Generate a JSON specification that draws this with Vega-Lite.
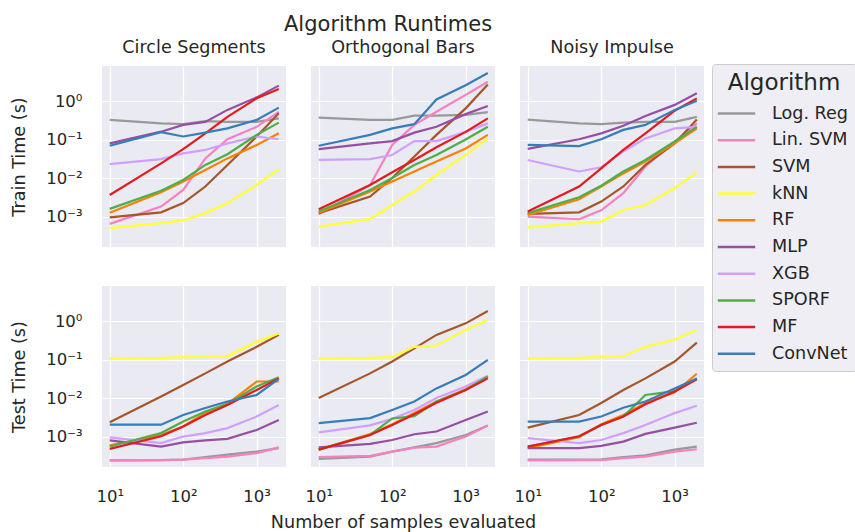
{
"$schema": "https://vega.github.io/schema/vega-lite/v6.json",
"padding": {"left": 10, "top": 14, "right": 0, "bottom": 0},
"background": "white",
"title": {"text": "Algorithm Runtimes", "fontSize": 21, "anchor": "middle", "frame": "bounds", "dx": -46, "offset": 4},
"data": {"values": [
{"d":"CS","p":"Tr","a":"Log. Reg","n":10,"t":0.324},{"d":"CS","p":"Tr","a":"Log. Reg","n":50,"t":0.263},{"d":"CS","p":"Tr","a":"Log. Reg","n":100,"t":0.251},{"d":"CS","p":"Tr","a":"Log. Reg","n":200,"t":0.302},{"d":"CS","p":"Tr","a":"Log. Reg","n":400,"t":0.288},{"d":"CS","p":"Tr","a":"Log. Reg","n":1000,"t":0.288},{"d":"CS","p":"Tr","a":"Log. Reg","n":2000,"t":0.355},
{"d":"CS","p":"Tr","a":"Lin. SVM","n":10,"t":0.000646},{"d":"CS","p":"Tr","a":"Lin. SVM","n":50,"t":0.00182},{"d":"CS","p":"Tr","a":"Lin. SVM","n":100,"t":0.0049},{"d":"CS","p":"Tr","a":"Lin. SVM","n":200,"t":0.0324},{"d":"CS","p":"Tr","a":"Lin. SVM","n":400,"t":0.102},{"d":"CS","p":"Tr","a":"Lin. SVM","n":1000,"t":0.214},{"d":"CS","p":"Tr","a":"Lin. SVM","n":2000,"t":0.525},
{"d":"CS","p":"Tr","a":"SVM","n":10,"t":0.000955},{"d":"CS","p":"Tr","a":"SVM","n":50,"t":0.00129},{"d":"CS","p":"Tr","a":"SVM","n":100,"t":0.00224},{"d":"CS","p":"Tr","a":"SVM","n":200,"t":0.00603},{"d":"CS","p":"Tr","a":"SVM","n":400,"t":0.0219},{"d":"CS","p":"Tr","a":"SVM","n":1000,"t":0.12},{"d":"CS","p":"Tr","a":"SVM","n":2000,"t":0.479},
{"d":"CS","p":"Tr","a":"kNN","n":10,"t":0.000501},{"d":"CS","p":"Tr","a":"kNN","n":50,"t":0.000676},{"d":"CS","p":"Tr","a":"kNN","n":100,"t":0.000794},{"d":"CS","p":"Tr","a":"kNN","n":200,"t":0.00123},{"d":"CS","p":"Tr","a":"kNN","n":400,"t":0.00224},{"d":"CS","p":"Tr","a":"kNN","n":1000,"t":0.00661},{"d":"CS","p":"Tr","a":"kNN","n":2000,"t":0.017},
{"d":"CS","p":"Tr","a":"RF","n":10,"t":0.00126},{"d":"CS","p":"Tr","a":"RF","n":50,"t":0.00427},{"d":"CS","p":"Tr","a":"RF","n":100,"t":0.00813},{"d":"CS","p":"Tr","a":"RF","n":200,"t":0.0162},{"d":"CS","p":"Tr","a":"RF","n":400,"t":0.0324},{"d":"CS","p":"Tr","a":"RF","n":1000,"t":0.0724},{"d":"CS","p":"Tr","a":"RF","n":2000,"t":0.145},
{"d":"CS","p":"Tr","a":"MLP","n":10,"t":0.0794},{"d":"CS","p":"Tr","a":"MLP","n":50,"t":0.16},{"d":"CS","p":"Tr","a":"MLP","n":100,"t":0.24},{"d":"CS","p":"Tr","a":"MLP","n":200,"t":0.288},{"d":"CS","p":"Tr","a":"MLP","n":400,"t":0.589},{"d":"CS","p":"Tr","a":"MLP","n":1000,"t":1.245},{"d":"CS","p":"Tr","a":"MLP","n":2000,"t":2.512},
{"d":"CS","p":"Tr","a":"XGB","n":10,"t":0.0229},{"d":"CS","p":"Tr","a":"XGB","n":50,"t":0.0309},{"d":"CS","p":"Tr","a":"XGB","n":100,"t":0.0437},{"d":"CS","p":"Tr","a":"XGB","n":200,"t":0.0537},{"d":"CS","p":"Tr","a":"XGB","n":400,"t":0.0794},{"d":"CS","p":"Tr","a":"XGB","n":1000,"t":0.12},{"d":"CS","p":"Tr","a":"XGB","n":2000,"t":0.102},
{"d":"CS","p":"Tr","a":"SPORF","n":10,"t":0.00158},{"d":"CS","p":"Tr","a":"SPORF","n":50,"t":0.00468},{"d":"CS","p":"Tr","a":"SPORF","n":100,"t":0.00891},{"d":"CS","p":"Tr","a":"SPORF","n":200,"t":0.0219},{"d":"CS","p":"Tr","a":"SPORF","n":400,"t":0.0417},{"d":"CS","p":"Tr","a":"SPORF","n":1000,"t":0.132},{"d":"CS","p":"Tr","a":"SPORF","n":2000,"t":0.275},
{"d":"CS","p":"Tr","a":"MF","n":10,"t":0.00363},{"d":"CS","p":"Tr","a":"MF","n":50,"t":0.024},{"d":"CS","p":"Tr","a":"MF","n":100,"t":0.0562},{"d":"CS","p":"Tr","a":"MF","n":200,"t":0.145},{"d":"CS","p":"Tr","a":"MF","n":400,"t":0.389},{"d":"CS","p":"Tr","a":"MF","n":1000,"t":1.175},{"d":"CS","p":"Tr","a":"MF","n":2000,"t":2.042},
{"d":"CS","p":"Tr","a":"ConvNet","n":10,"t":0.0692},{"d":"CS","p":"Tr","a":"ConvNet","n":50,"t":0.155},{"d":"CS","p":"Tr","a":"ConvNet","n":100,"t":0.12},{"d":"CS","p":"Tr","a":"ConvNet","n":200,"t":0.151},{"d":"CS","p":"Tr","a":"ConvNet","n":400,"t":0.195},{"d":"CS","p":"Tr","a":"ConvNet","n":1000,"t":0.324},{"d":"CS","p":"Tr","a":"ConvNet","n":2000,"t":0.676},

{"d":"OB","p":"Tr","a":"Log. Reg","n":10,"t":0.372},{"d":"OB","p":"Tr","a":"Log. Reg","n":50,"t":0.324},{"d":"OB","p":"Tr","a":"Log. Reg","n":100,"t":0.324},{"d":"OB","p":"Tr","a":"Log. Reg","n":200,"t":0.417},{"d":"OB","p":"Tr","a":"Log. Reg","n":400,"t":0.417},{"d":"OB","p":"Tr","a":"Log. Reg","n":1000,"t":0.437},{"d":"OB","p":"Tr","a":"Log. Reg","n":2000,"t":0.513},
{"d":"OB","p":"Tr","a":"Lin. SVM","n":10,"t":0.00115},{"d":"OB","p":"Tr","a":"Lin. SVM","n":50,"t":0.00661},{"d":"OB","p":"Tr","a":"Lin. SVM","n":100,"t":0.0724},{"d":"OB","p":"Tr","a":"Lin. SVM","n":200,"t":0.24},{"d":"OB","p":"Tr","a":"Lin. SVM","n":400,"t":0.525},{"d":"OB","p":"Tr","a":"Lin. SVM","n":1000,"t":1.445},{"d":"OB","p":"Tr","a":"Lin. SVM","n":2000,"t":3.162},
{"d":"OB","p":"Tr","a":"SVM","n":10,"t":0.00123},{"d":"OB","p":"Tr","a":"SVM","n":50,"t":0.00331},{"d":"OB","p":"Tr","a":"SVM","n":100,"t":0.01},{"d":"OB","p":"Tr","a":"SVM","n":200,"t":0.0363},{"d":"OB","p":"Tr","a":"SVM","n":400,"t":0.132},{"d":"OB","p":"Tr","a":"SVM","n":1000,"t":0.646},{"d":"OB","p":"Tr","a":"SVM","n":2000,"t":2.692},
{"d":"OB","p":"Tr","a":"kNN","n":10,"t":0.00055},{"d":"OB","p":"Tr","a":"kNN","n":50,"t":0.000871},{"d":"OB","p":"Tr","a":"kNN","n":100,"t":0.002},{"d":"OB","p":"Tr","a":"kNN","n":200,"t":0.00447},{"d":"OB","p":"Tr","a":"kNN","n":400,"t":0.012},{"d":"OB","p":"Tr","a":"kNN","n":1000,"t":0.0398},{"d":"OB","p":"Tr","a":"kNN","n":2000,"t":0.107},
{"d":"OB","p":"Tr","a":"RF","n":10,"t":0.00126},{"d":"OB","p":"Tr","a":"RF","n":50,"t":0.00447},{"d":"OB","p":"Tr","a":"RF","n":100,"t":0.00813},{"d":"OB","p":"Tr","a":"RF","n":200,"t":0.0148},{"d":"OB","p":"Tr","a":"RF","n":400,"t":0.0269},{"d":"OB","p":"Tr","a":"RF","n":1000,"t":0.0589},{"d":"OB","p":"Tr","a":"RF","n":2000,"t":0.132},
{"d":"OB","p":"Tr","a":"MLP","n":10,"t":0.0562},{"d":"OB","p":"Tr","a":"MLP","n":50,"t":0.0794},{"d":"OB","p":"Tr","a":"MLP","n":100,"t":0.0912},{"d":"OB","p":"Tr","a":"MLP","n":200,"t":0.151},{"d":"OB","p":"Tr","a":"MLP","n":400,"t":0.214},{"d":"OB","p":"Tr","a":"MLP","n":1000,"t":0.457},{"d":"OB","p":"Tr","a":"MLP","n":2000,"t":0.741},
{"d":"OB","p":"Tr","a":"XGB","n":10,"t":0.0295},{"d":"OB","p":"Tr","a":"XGB","n":50,"t":0.0309},{"d":"OB","p":"Tr","a":"XGB","n":100,"t":0.0398},{"d":"OB","p":"Tr","a":"XGB","n":200,"t":0.0912},{"d":"OB","p":"Tr","a":"XGB","n":400,"t":0.0912},{"d":"OB","p":"Tr","a":"XGB","n":1000,"t":0.158},{"d":"OB","p":"Tr","a":"XGB","n":2000,"t":0.263},
{"d":"OB","p":"Tr","a":"SPORF","n":10,"t":0.00135},{"d":"OB","p":"Tr","a":"SPORF","n":50,"t":0.0049},{"d":"OB","p":"Tr","a":"SPORF","n":100,"t":0.01},{"d":"OB","p":"Tr","a":"SPORF","n":200,"t":0.0219},{"d":"OB","p":"Tr","a":"SPORF","n":400,"t":0.0398},{"d":"OB","p":"Tr","a":"SPORF","n":1000,"t":0.1},{"d":"OB","p":"Tr","a":"SPORF","n":2000,"t":0.214},
{"d":"OB","p":"Tr","a":"MF","n":10,"t":0.00155},{"d":"OB","p":"Tr","a":"MF","n":50,"t":0.00661},{"d":"OB","p":"Tr","a":"MF","n":100,"t":0.0141},{"d":"OB","p":"Tr","a":"MF","n":200,"t":0.0295},{"d":"OB","p":"Tr","a":"MF","n":400,"t":0.0631},{"d":"OB","p":"Tr","a":"MF","n":1000,"t":0.158},{"d":"OB","p":"Tr","a":"MF","n":2000,"t":0.355},
{"d":"OB","p":"Tr","a":"ConvNet","n":10,"t":0.0692},{"d":"OB","p":"Tr","a":"ConvNet","n":50,"t":0.132},{"d":"OB","p":"Tr","a":"ConvNet","n":100,"t":0.195},{"d":"OB","p":"Tr","a":"ConvNet","n":200,"t":0.251},{"d":"OB","p":"Tr","a":"ConvNet","n":400,"t":1.096},{"d":"OB","p":"Tr","a":"ConvNet","n":1000,"t":2.57},{"d":"OB","p":"Tr","a":"ConvNet","n":2000,"t":5.37},

{"d":"NI","p":"Tr","a":"Log. Reg","n":10,"t":0.331},{"d":"NI","p":"Tr","a":"Log. Reg","n":50,"t":0.263},{"d":"NI","p":"Tr","a":"Log. Reg","n":100,"t":0.251},{"d":"NI","p":"Tr","a":"Log. Reg","n":200,"t":0.275},{"d":"NI","p":"Tr","a":"Log. Reg","n":400,"t":0.288},{"d":"NI","p":"Tr","a":"Log. Reg","n":1000,"t":0.288},{"d":"NI","p":"Tr","a":"Log. Reg","n":2000,"t":0.389},
{"d":"NI","p":"Tr","a":"Lin. SVM","n":10,"t":0.001},{"d":"NI","p":"Tr","a":"Lin. SVM","n":50,"t":0.000851},{"d":"NI","p":"Tr","a":"Lin. SVM","n":100,"t":0.00145},{"d":"NI","p":"Tr","a":"Lin. SVM","n":200,"t":0.00407},{"d":"NI","p":"Tr","a":"Lin. SVM","n":400,"t":0.02},{"d":"NI","p":"Tr","a":"Lin. SVM","n":1000,"t":0.0891},{"d":"NI","p":"Tr","a":"Lin. SVM","n":2000,"t":0.263},
{"d":"NI","p":"Tr","a":"SVM","n":10,"t":0.00117},{"d":"NI","p":"Tr","a":"SVM","n":50,"t":0.00129},{"d":"NI","p":"Tr","a":"SVM","n":100,"t":0.00245},{"d":"NI","p":"Tr","a":"SVM","n":200,"t":0.00603},{"d":"NI","p":"Tr","a":"SVM","n":400,"t":0.0219},{"d":"NI","p":"Tr","a":"SVM","n":1000,"t":0.0794},{"d":"NI","p":"Tr","a":"SVM","n":2000,"t":0.331},
{"d":"NI","p":"Tr","a":"kNN","n":10,"t":0.000525},{"d":"NI","p":"Tr","a":"kNN","n":50,"t":0.000676},{"d":"NI","p":"Tr","a":"kNN","n":100,"t":0.000741},{"d":"NI","p":"Tr","a":"kNN","n":200,"t":0.00148},{"d":"NI","p":"Tr","a":"kNN","n":400,"t":0.002},{"d":"NI","p":"Tr","a":"kNN","n":1000,"t":0.0055},{"d":"NI","p":"Tr","a":"kNN","n":2000,"t":0.0138},
{"d":"NI","p":"Tr","a":"RF","n":10,"t":0.0011},{"d":"NI","p":"Tr","a":"RF","n":50,"t":0.00282},{"d":"NI","p":"Tr","a":"RF","n":100,"t":0.00603},{"d":"NI","p":"Tr","a":"RF","n":200,"t":0.0132},{"d":"NI","p":"Tr","a":"RF","n":400,"t":0.0269},{"d":"NI","p":"Tr","a":"RF","n":1000,"t":0.0794},{"d":"NI","p":"Tr","a":"RF","n":2000,"t":0.195},
{"d":"NI","p":"Tr","a":"MLP","n":10,"t":0.0575},{"d":"NI","p":"Tr","a":"MLP","n":50,"t":0.102},{"d":"NI","p":"Tr","a":"MLP","n":100,"t":0.145},{"d":"NI","p":"Tr","a":"MLP","n":200,"t":0.229},{"d":"NI","p":"Tr","a":"MLP","n":400,"t":0.407},{"d":"NI","p":"Tr","a":"MLP","n":1000,"t":0.794},{"d":"NI","p":"Tr","a":"MLP","n":2000,"t":1.585},
{"d":"NI","p":"Tr","a":"XGB","n":10,"t":0.0295},{"d":"NI","p":"Tr","a":"XGB","n":50,"t":0.0148},{"d":"NI","p":"Tr","a":"XGB","n":100,"t":0.0191},{"d":"NI","p":"Tr","a":"XGB","n":200,"t":0.049},{"d":"NI","p":"Tr","a":"XGB","n":400,"t":0.107},{"d":"NI","p":"Tr","a":"XGB","n":1000,"t":0.195},{"d":"NI","p":"Tr","a":"XGB","n":2000,"t":0.214},
{"d":"NI","p":"Tr","a":"SPORF","n":10,"t":0.00123},{"d":"NI","p":"Tr","a":"SPORF","n":50,"t":0.00316},{"d":"NI","p":"Tr","a":"SPORF","n":100,"t":0.00631},{"d":"NI","p":"Tr","a":"SPORF","n":200,"t":0.0148},{"d":"NI","p":"Tr","a":"SPORF","n":400,"t":0.0295},{"d":"NI","p":"Tr","a":"SPORF","n":1000,"t":0.0891},{"d":"NI","p":"Tr","a":"SPORF","n":2000,"t":0.214},
{"d":"NI","p":"Tr","a":"MF","n":10,"t":0.00135},{"d":"NI","p":"Tr","a":"MF","n":50,"t":0.00603},{"d":"NI","p":"Tr","a":"MF","n":100,"t":0.0178},{"d":"NI","p":"Tr","a":"MF","n":200,"t":0.0537},{"d":"NI","p":"Tr","a":"MF","n":400,"t":0.145},{"d":"NI","p":"Tr","a":"MF","n":1000,"t":0.562},{"d":"NI","p":"Tr","a":"MF","n":2000,"t":1.175},
{"d":"NI","p":"Tr","a":"ConvNet","n":10,"t":0.0724},{"d":"NI","p":"Tr","a":"ConvNet","n":50,"t":0.0676},{"d":"NI","p":"Tr","a":"ConvNet","n":100,"t":0.102},{"d":"NI","p":"Tr","a":"ConvNet","n":200,"t":0.178},{"d":"NI","p":"Tr","a":"ConvNet","n":400,"t":0.24},{"d":"NI","p":"Tr","a":"ConvNet","n":1000,"t":0.589},{"d":"NI","p":"Tr","a":"ConvNet","n":2000,"t":1.023},

{"d":"CS","p":"Te","a":"Log. Reg","n":10,"t":0.00024},{"d":"CS","p":"Te","a":"Log. Reg","n":50,"t":0.000245},{"d":"CS","p":"Te","a":"Log. Reg","n":100,"t":0.000251},{"d":"CS","p":"Te","a":"Log. Reg","n":200,"t":0.000295},{"d":"CS","p":"Te","a":"Log. Reg","n":400,"t":0.000339},{"d":"CS","p":"Te","a":"Log. Reg","n":1000,"t":0.000407},{"d":"CS","p":"Te","a":"Log. Reg","n":2000,"t":0.000501},
{"d":"CS","p":"Te","a":"Lin. SVM","n":10,"t":0.00024},{"d":"CS","p":"Te","a":"Lin. SVM","n":50,"t":0.000245},{"d":"CS","p":"Te","a":"Lin. SVM","n":100,"t":0.000251},{"d":"CS","p":"Te","a":"Lin. SVM","n":200,"t":0.000275},{"d":"CS","p":"Te","a":"Lin. SVM","n":400,"t":0.000302},{"d":"CS","p":"Te","a":"Lin. SVM","n":1000,"t":0.000372},{"d":"CS","p":"Te","a":"Lin. SVM","n":2000,"t":0.000525},
{"d":"CS","p":"Te","a":"SVM","n":10,"t":0.00234},{"d":"CS","p":"Te","a":"SVM","n":50,"t":0.011},{"d":"CS","p":"Te","a":"SVM","n":100,"t":0.0219},{"d":"CS","p":"Te","a":"SVM","n":200,"t":0.0437},{"d":"CS","p":"Te","a":"SVM","n":400,"t":0.0891},{"d":"CS","p":"Te","a":"SVM","n":1000,"t":0.214},{"d":"CS","p":"Te","a":"SVM","n":2000,"t":0.437},
{"d":"CS","p":"Te","a":"kNN","n":10,"t":0.107},{"d":"CS","p":"Te","a":"kNN","n":50,"t":0.11},{"d":"CS","p":"Te","a":"kNN","n":100,"t":0.115},{"d":"CS","p":"Te","a":"kNN","n":200,"t":0.117},{"d":"CS","p":"Te","a":"kNN","n":400,"t":0.123},{"d":"CS","p":"Te","a":"kNN","n":1000,"t":0.288},{"d":"CS","p":"Te","a":"kNN","n":2000,"t":0.479},
{"d":"CS","p":"Te","a":"RF","n":10,"t":0.000589},{"d":"CS","p":"Te","a":"RF","n":50,"t":0.0011},{"d":"CS","p":"Te","a":"RF","n":100,"t":0.00182},{"d":"CS","p":"Te","a":"RF","n":200,"t":0.00417},{"d":"CS","p":"Te","a":"RF","n":400,"t":0.00708},{"d":"CS","p":"Te","a":"RF","n":1000,"t":0.0269},{"d":"CS","p":"Te","a":"RF","n":2000,"t":0.0269},
{"d":"CS","p":"Te","a":"MLP","n":10,"t":0.000794},{"d":"CS","p":"Te","a":"MLP","n":50,"t":0.00055},{"d":"CS","p":"Te","a":"MLP","n":100,"t":0.000708},{"d":"CS","p":"Te","a":"MLP","n":200,"t":0.000794},{"d":"CS","p":"Te","a":"MLP","n":400,"t":0.000871},{"d":"CS","p":"Te","a":"MLP","n":1000,"t":0.00148},{"d":"CS","p":"Te","a":"MLP","n":2000,"t":0.00269},
{"d":"CS","p":"Te","a":"XGB","n":10,"t":0.000955},{"d":"CS","p":"Te","a":"XGB","n":50,"t":0.000676},{"d":"CS","p":"Te","a":"XGB","n":100,"t":0.001},{"d":"CS","p":"Te","a":"XGB","n":200,"t":0.00123},{"d":"CS","p":"Te","a":"XGB","n":400,"t":0.00166},{"d":"CS","p":"Te","a":"XGB","n":1000,"t":0.00331},{"d":"CS","p":"Te","a":"XGB","n":2000,"t":0.00661},
{"d":"CS","p":"Te","a":"SPORF","n":10,"t":0.00055},{"d":"CS","p":"Te","a":"SPORF","n":50,"t":0.00123},{"d":"CS","p":"Te","a":"SPORF","n":100,"t":0.00245},{"d":"CS","p":"Te","a":"SPORF","n":200,"t":0.00447},{"d":"CS","p":"Te","a":"SPORF","n":400,"t":0.00708},{"d":"CS","p":"Te","a":"SPORF","n":1000,"t":0.02},{"d":"CS","p":"Te","a":"SPORF","n":2000,"t":0.0347},
{"d":"CS","p":"Te","a":"MF","n":10,"t":0.000479},{"d":"CS","p":"Te","a":"MF","n":50,"t":0.00102},{"d":"CS","p":"Te","a":"MF","n":100,"t":0.00182},{"d":"CS","p":"Te","a":"MF","n":200,"t":0.00363},{"d":"CS","p":"Te","a":"MF","n":400,"t":0.00661},{"d":"CS","p":"Te","a":"MF","n":1000,"t":0.0162},{"d":"CS","p":"Te","a":"MF","n":2000,"t":0.0324},
{"d":"CS","p":"Te","a":"ConvNet","n":10,"t":0.00204},{"d":"CS","p":"Te","a":"ConvNet","n":50,"t":0.00204},{"d":"CS","p":"Te","a":"ConvNet","n":100,"t":0.00363},{"d":"CS","p":"Te","a":"ConvNet","n":200,"t":0.0055},{"d":"CS","p":"Te","a":"ConvNet","n":400,"t":0.00813},{"d":"CS","p":"Te","a":"ConvNet","n":1000,"t":0.012},{"d":"CS","p":"Te","a":"ConvNet","n":2000,"t":0.0316},

{"d":"OB","p":"Te","a":"Log. Reg","n":10,"t":0.000263},{"d":"OB","p":"Te","a":"Log. Reg","n":50,"t":0.000302},{"d":"OB","p":"Te","a":"Log. Reg","n":100,"t":0.000407},{"d":"OB","p":"Te","a":"Log. Reg","n":200,"t":0.000525},{"d":"OB","p":"Te","a":"Log. Reg","n":400,"t":0.000676},{"d":"OB","p":"Te","a":"Log. Reg","n":1000,"t":0.0011},{"d":"OB","p":"Te","a":"Log. Reg","n":2000,"t":0.00195},
{"d":"OB","p":"Te","a":"Lin. SVM","n":10,"t":0.000295},{"d":"OB","p":"Te","a":"Lin. SVM","n":50,"t":0.000316},{"d":"OB","p":"Te","a":"Lin. SVM","n":100,"t":0.000407},{"d":"OB","p":"Te","a":"Lin. SVM","n":200,"t":0.000513},{"d":"OB","p":"Te","a":"Lin. SVM","n":400,"t":0.00055},{"d":"OB","p":"Te","a":"Lin. SVM","n":1000,"t":0.001},{"d":"OB","p":"Te","a":"Lin. SVM","n":2000,"t":0.00195},
{"d":"OB","p":"Te","a":"SVM","n":10,"t":0.01},{"d":"OB","p":"Te","a":"SVM","n":50,"t":0.0437},{"d":"OB","p":"Te","a":"SVM","n":100,"t":0.0891},{"d":"OB","p":"Te","a":"SVM","n":200,"t":0.195},{"d":"OB","p":"Te","a":"SVM","n":400,"t":0.437},{"d":"OB","p":"Te","a":"SVM","n":1000,"t":0.871},{"d":"OB","p":"Te","a":"SVM","n":2000,"t":1.82},
{"d":"OB","p":"Te","a":"kNN","n":10,"t":0.107},{"d":"OB","p":"Te","a":"kNN","n":50,"t":0.11},{"d":"OB","p":"Te","a":"kNN","n":100,"t":0.115},{"d":"OB","p":"Te","a":"kNN","n":200,"t":0.214},{"d":"OB","p":"Te","a":"kNN","n":400,"t":0.229},{"d":"OB","p":"Te","a":"kNN","n":1000,"t":0.589},{"d":"OB","p":"Te","a":"kNN","n":2000,"t":1.072},
{"d":"OB","p":"Te","a":"RF","n":10,"t":0.000457},{"d":"OB","p":"Te","a":"RF","n":50,"t":0.00117},{"d":"OB","p":"Te","a":"RF","n":100,"t":0.00209},{"d":"OB","p":"Te","a":"RF","n":200,"t":0.00407},{"d":"OB","p":"Te","a":"RF","n":400,"t":0.00813},{"d":"OB","p":"Te","a":"RF","n":1000,"t":0.017},{"d":"OB","p":"Te","a":"RF","n":2000,"t":0.0363},
{"d":"OB","p":"Te","a":"MLP","n":10,"t":0.000525},{"d":"OB","p":"Te","a":"MLP","n":50,"t":0.000646},{"d":"OB","p":"Te","a":"MLP","n":100,"t":0.000813},{"d":"OB","p":"Te","a":"MLP","n":200,"t":0.00115},{"d":"OB","p":"Te","a":"MLP","n":400,"t":0.00135},{"d":"OB","p":"Te","a":"MLP","n":1000,"t":0.00269},{"d":"OB","p":"Te","a":"MLP","n":2000,"t":0.00447},
{"d":"OB","p":"Te","a":"XGB","n":10,"t":0.00129},{"d":"OB","p":"Te","a":"XGB","n":50,"t":0.00195},{"d":"OB","p":"Te","a":"XGB","n":100,"t":0.00288},{"d":"OB","p":"Te","a":"XGB","n":200,"t":0.0049},{"d":"OB","p":"Te","a":"XGB","n":400,"t":0.01},{"d":"OB","p":"Te","a":"XGB","n":1000,"t":0.02},{"d":"OB","p":"Te","a":"XGB","n":2000,"t":0.038},
{"d":"OB","p":"Te","a":"SPORF","n":10,"t":0.000457},{"d":"OB","p":"Te","a":"SPORF","n":50,"t":0.0011},{"d":"OB","p":"Te","a":"SPORF","n":100,"t":0.00295},{"d":"OB","p":"Te","a":"SPORF","n":200,"t":0.00339},{"d":"OB","p":"Te","a":"SPORF","n":400,"t":0.00813},{"d":"OB","p":"Te","a":"SPORF","n":1000,"t":0.0162},{"d":"OB","p":"Te","a":"SPORF","n":2000,"t":0.0363},
{"d":"OB","p":"Te","a":"MF","n":10,"t":0.000457},{"d":"OB","p":"Te","a":"MF","n":50,"t":0.0011},{"d":"OB","p":"Te","a":"MF","n":100,"t":0.002},{"d":"OB","p":"Te","a":"MF","n":200,"t":0.0038},{"d":"OB","p":"Te","a":"MF","n":400,"t":0.00759},{"d":"OB","p":"Te","a":"MF","n":1000,"t":0.0162},{"d":"OB","p":"Te","a":"MF","n":2000,"t":0.0324},
{"d":"OB","p":"Te","a":"ConvNet","n":10,"t":0.00224},{"d":"OB","p":"Te","a":"ConvNet","n":50,"t":0.00302},{"d":"OB","p":"Te","a":"ConvNet","n":100,"t":0.0049},{"d":"OB","p":"Te","a":"ConvNet","n":200,"t":0.00813},{"d":"OB","p":"Te","a":"ConvNet","n":400,"t":0.0178},{"d":"OB","p":"Te","a":"ConvNet","n":1000,"t":0.0398},{"d":"OB","p":"Te","a":"ConvNet","n":2000,"t":0.0977},

{"d":"NI","p":"Te","a":"Log. Reg","n":10,"t":0.000251},{"d":"NI","p":"Te","a":"Log. Reg","n":50,"t":0.000251},{"d":"NI","p":"Te","a":"Log. Reg","n":100,"t":0.000257},{"d":"NI","p":"Te","a":"Log. Reg","n":200,"t":0.000295},{"d":"NI","p":"Te","a":"Log. Reg","n":400,"t":0.000324},{"d":"NI","p":"Te","a":"Log. Reg","n":1000,"t":0.000457},{"d":"NI","p":"Te","a":"Log. Reg","n":2000,"t":0.00055},
{"d":"NI","p":"Te","a":"Lin. SVM","n":10,"t":0.00024},{"d":"NI","p":"Te","a":"Lin. SVM","n":50,"t":0.000245},{"d":"NI","p":"Te","a":"Lin. SVM","n":100,"t":0.000245},{"d":"NI","p":"Te","a":"Lin. SVM","n":200,"t":0.000275},{"d":"NI","p":"Te","a":"Lin. SVM","n":400,"t":0.000302},{"d":"NI","p":"Te","a":"Lin. SVM","n":1000,"t":0.000407},{"d":"NI","p":"Te","a":"Lin. SVM","n":2000,"t":0.000468},
{"d":"NI","p":"Te","a":"SVM","n":10,"t":0.0017},{"d":"NI","p":"Te","a":"SVM","n":50,"t":0.00363},{"d":"NI","p":"Te","a":"SVM","n":100,"t":0.00741},{"d":"NI","p":"Te","a":"SVM","n":200,"t":0.0162},{"d":"NI","p":"Te","a":"SVM","n":400,"t":0.0324},{"d":"NI","p":"Te","a":"SVM","n":1000,"t":0.0891},{"d":"NI","p":"Te","a":"SVM","n":2000,"t":0.275},
{"d":"NI","p":"Te","a":"kNN","n":10,"t":0.107},{"d":"NI","p":"Te","a":"kNN","n":50,"t":0.11},{"d":"NI","p":"Te","a":"kNN","n":100,"t":0.115},{"d":"NI","p":"Te","a":"kNN","n":200,"t":0.12},{"d":"NI","p":"Te","a":"kNN","n":400,"t":0.214},{"d":"NI","p":"Te","a":"kNN","n":1000,"t":0.331},{"d":"NI","p":"Te","a":"kNN","n":2000,"t":0.589},
{"d":"NI","p":"Te","a":"RF","n":10,"t":0.000501},{"d":"NI","p":"Te","a":"RF","n":50,"t":0.000955},{"d":"NI","p":"Te","a":"RF","n":100,"t":0.00209},{"d":"NI","p":"Te","a":"RF","n":200,"t":0.00363},{"d":"NI","p":"Te","a":"RF","n":400,"t":0.00741},{"d":"NI","p":"Te","a":"RF","n":1000,"t":0.0141},{"d":"NI","p":"Te","a":"RF","n":2000,"t":0.0427},
{"d":"NI","p":"Te","a":"MLP","n":10,"t":0.000501},{"d":"NI","p":"Te","a":"MLP","n":50,"t":0.000501},{"d":"NI","p":"Te","a":"MLP","n":100,"t":0.000575},{"d":"NI","p":"Te","a":"MLP","n":200,"t":0.000741},{"d":"NI","p":"Te","a":"MLP","n":400,"t":0.00117},{"d":"NI","p":"Te","a":"MLP","n":1000,"t":0.0017},{"d":"NI","p":"Te","a":"MLP","n":2000,"t":0.00229},
{"d":"NI","p":"Te","a":"XGB","n":10,"t":0.000912},{"d":"NI","p":"Te","a":"XGB","n":50,"t":0.000676},{"d":"NI","p":"Te","a":"XGB","n":100,"t":0.000813},{"d":"NI","p":"Te","a":"XGB","n":200,"t":0.00123},{"d":"NI","p":"Te","a":"XGB","n":400,"t":0.002},{"d":"NI","p":"Te","a":"XGB","n":1000,"t":0.00407},{"d":"NI","p":"Te","a":"XGB","n":2000,"t":0.00631},
{"d":"NI","p":"Te","a":"SPORF","n":10,"t":0.00055},{"d":"NI","p":"Te","a":"SPORF","n":50,"t":0.001},{"d":"NI","p":"Te","a":"SPORF","n":100,"t":0.002},{"d":"NI","p":"Te","a":"SPORF","n":200,"t":0.00331},{"d":"NI","p":"Te","a":"SPORF","n":400,"t":0.012},{"d":"NI","p":"Te","a":"SPORF","n":1000,"t":0.0151},{"d":"NI","p":"Te","a":"SPORF","n":2000,"t":0.0316},
{"d":"NI","p":"Te","a":"MF","n":10,"t":0.00055},{"d":"NI","p":"Te","a":"MF","n":50,"t":0.00102},{"d":"NI","p":"Te","a":"MF","n":100,"t":0.002},{"d":"NI","p":"Te","a":"MF","n":200,"t":0.00331},{"d":"NI","p":"Te","a":"MF","n":400,"t":0.00692},{"d":"NI","p":"Te","a":"MF","n":1000,"t":0.0148},{"d":"NI","p":"Te","a":"MF","n":2000,"t":0.0309},
{"d":"NI","p":"Te","a":"ConvNet","n":10,"t":0.00245},{"d":"NI","p":"Te","a":"ConvNet","n":50,"t":0.00245},{"d":"NI","p":"Te","a":"ConvNet","n":100,"t":0.00331},{"d":"NI","p":"Te","a":"ConvNet","n":200,"t":0.00562},{"d":"NI","p":"Te","a":"ConvNet","n":400,"t":0.00813},{"d":"NI","p":"Te","a":"ConvNet","n":1000,"t":0.0178},{"d":"NI","p":"Te","a":"ConvNet","n":2000,"t":0.0324}
]},
"columns": 3,
"spacing": {"row": 39, "column": 25},
"bounds": "flush",
"resolve": {"scale": {"color": "shared"}, "legend": {"color": "shared"}},
"concat": [
{"title": "Circle Segments", "width": 184, "height": 181,
 "transform": [{"filter": "datum.d == 'CS' && datum.p == 'Tr'"}],
 "mark": {"type": "line", "strokeWidth": 2.2, "clip": true},
 "encoding": {
  "x": {"field": "n", "type": "quantitative", "scale": {"type": "log", "domain": [7.85, 2506], "nice": false}, "axis": {"values": [10, 100, 1000], "labels": false, "title": null}},
  "y": {"field": "t", "type": "quantitative", "scale": {"type": "log", "domain": [0.000162, 8.13], "nice": false}, "axis": {"values": [0.001, 0.01, 0.1, 1], "labelExpr": "datum.value < 0.002 ? '10⁻³' : datum.value < 0.02 ? '10⁻²' : datum.value < 0.2 ? '10⁻¹' : '10⁰'", "title": "Train Time (s)"}},
  "color": {"field": "a", "type": "nominal", "title": "Algorithm", "scale": {"domain": ["Log. Reg","Lin. SVM","SVM","kNN","RF","MLP","XGB","SPORF","MF","ConvNet"], "range": ["#999999","#f781bf","#a65628","#ffff33","#ff7f00","#984ea3","#d0a0ff","#4daf4a","#e41a1c","#377eb8"]}}
 }},
{"title": "Orthogonal Bars", "width": 184, "height": 181,
 "transform": [{"filter": "datum.d == 'OB' && datum.p == 'Tr'"}],
 "mark": {"type": "line", "strokeWidth": 2.2, "clip": true},
 "encoding": {
  "x": {"field": "n", "type": "quantitative", "scale": {"type": "log", "domain": [7.85, 2506], "nice": false}, "axis": {"values": [10, 100, 1000], "labels": false, "title": null}},
  "y": {"field": "t", "type": "quantitative", "scale": {"type": "log", "domain": [0.000162, 8.13], "nice": false}, "axis": {"values": [0.001, 0.01, 0.1, 1], "labels": false, "title": null}},
  "color": {"field": "a", "type": "nominal", "title": "Algorithm", "scale": {"domain": ["Log. Reg","Lin. SVM","SVM","kNN","RF","MLP","XGB","SPORF","MF","ConvNet"], "range": ["#999999","#f781bf","#a65628","#ffff33","#ff7f00","#984ea3","#d0a0ff","#4daf4a","#e41a1c","#377eb8"]}}
 }},
{"title": "Noisy Impulse", "width": 184, "height": 181,
 "transform": [{"filter": "datum.d == 'NI' && datum.p == 'Tr'"}],
 "mark": {"type": "line", "strokeWidth": 2.2, "clip": true},
 "encoding": {
  "x": {"field": "n", "type": "quantitative", "scale": {"type": "log", "domain": [7.85, 2506], "nice": false}, "axis": {"values": [10, 100, 1000], "labels": false, "title": null}},
  "y": {"field": "t", "type": "quantitative", "scale": {"type": "log", "domain": [0.000162, 8.13], "nice": false}, "axis": {"values": [0.001, 0.01, 0.1, 1], "labels": false, "title": null}},
  "color": {"field": "a", "type": "nominal", "title": "Algorithm", "scale": {"domain": ["Log. Reg","Lin. SVM","SVM","kNN","RF","MLP","XGB","SPORF","MF","ConvNet"], "range": ["#999999","#f781bf","#a65628","#ffff33","#ff7f00","#984ea3","#d0a0ff","#4daf4a","#e41a1c","#377eb8"]}}
 }},
{"width": 184, "height": 181,
 "transform": [{"filter": "datum.d == 'CS' && datum.p == 'Te'"}],
 "mark": {"type": "line", "strokeWidth": 2.2, "clip": true},
 "encoding": {
  "x": {"field": "n", "type": "quantitative", "scale": {"type": "log", "domain": [7.85, 2506], "nice": false}, "axis": {"values": [10, 100, 1000], "labelExpr": "datum.value < 20 ? '10¹' : datum.value < 200 ? '10²' : '10³'", "title": null}},
  "y": {"field": "t", "type": "quantitative", "scale": {"type": "log", "domain": [0.000162, 8.13], "nice": false}, "axis": {"values": [0.001, 0.01, 0.1, 1], "labelExpr": "datum.value < 0.002 ? '10⁻³' : datum.value < 0.02 ? '10⁻²' : datum.value < 0.2 ? '10⁻¹' : '10⁰'", "title": "Test Time (s)"}},
  "color": {"field": "a", "type": "nominal", "title": "Algorithm", "scale": {"domain": ["Log. Reg","Lin. SVM","SVM","kNN","RF","MLP","XGB","SPORF","MF","ConvNet"], "range": ["#999999","#f781bf","#a65628","#ffff33","#ff7f00","#984ea3","#d0a0ff","#4daf4a","#e41a1c","#377eb8"]}}
 }},
{"width": 184, "height": 181,
 "transform": [{"filter": "datum.d == 'OB' && datum.p == 'Te'"}],
 "mark": {"type": "line", "strokeWidth": 2.2, "clip": true},
 "encoding": {
  "x": {"field": "n", "type": "quantitative", "scale": {"type": "log", "domain": [7.85, 2506], "nice": false}, "axis": {"values": [10, 100, 1000], "labelExpr": "datum.value < 20 ? '10¹' : datum.value < 200 ? '10²' : '10³'", "title": "Number of samples evaluated"}},
  "y": {"field": "t", "type": "quantitative", "scale": {"type": "log", "domain": [0.000162, 8.13], "nice": false}, "axis": {"values": [0.001, 0.01, 0.1, 1], "labels": false, "title": null}},
  "color": {"field": "a", "type": "nominal", "title": "Algorithm", "scale": {"domain": ["Log. Reg","Lin. SVM","SVM","kNN","RF","MLP","XGB","SPORF","MF","ConvNet"], "range": ["#999999","#f781bf","#a65628","#ffff33","#ff7f00","#984ea3","#d0a0ff","#4daf4a","#e41a1c","#377eb8"]}}
 }},
{"width": 184, "height": 181,
 "transform": [{"filter": "datum.d == 'NI' && datum.p == 'Te'"}],
 "mark": {"type": "line", "strokeWidth": 2.2, "clip": true},
 "encoding": {
  "x": {"field": "n", "type": "quantitative", "scale": {"type": "log", "domain": [7.85, 2506], "nice": false}, "axis": {"values": [10, 100, 1000], "labelExpr": "datum.value < 20 ? '10¹' : datum.value < 200 ? '10²' : '10³'", "title": null}},
  "y": {"field": "t", "type": "quantitative", "scale": {"type": "log", "domain": [0.000162, 8.13], "nice": false}, "axis": {"values": [0.001, 0.01, 0.1, 1], "labels": false, "title": null}},
  "color": {"field": "a", "type": "nominal", "title": "Algorithm", "scale": {"domain": ["Log. Reg","Lin. SVM","SVM","kNN","RF","MLP","XGB","SPORF","MF","ConvNet"], "range": ["#999999","#f781bf","#a65628","#ffff33","#ff7f00","#984ea3","#d0a0ff","#4daf4a","#e41a1c","#377eb8"]}}
 }}
],
"config": {
 "font": "DejaVu Sans",
 "view": {"fill": "#EAEAF2", "stroke": null},
 "axis": {"domain": false, "ticks": false, "grid": true, "gridColor": "#ffffff", "gridWidth": 1.2, "gridOpacity": 1, "labelFont": "DejaVu Sans", "labelFontSize": 16.5, "labelColor": "#262626", "labelPadding": 18, "titleFont": "DejaVu Sans", "titleFontSize": 17.6, "titleFontWeight": "normal", "titleColor": "#262626", "titlePadding": 9},
 "axisX": {"labelPadding": 21, "titlePadding": 9},
 "axisY": {"labelPadding": 20, "titlePadding": 17},
 "title": {"font": "DejaVu Sans", "fontWeight": "normal", "fontSize": 17.6, "color": "#262626", "offset": 9},
 "legend": {"orient": "none", "legendX": 610, "legendY": -2, "titleFont": "DejaVu Sans", "titleFontSize": 23, "titleFontWeight": "normal", "titleColor": "#262626", "titleAnchor": "middle", "titlePadding": 6, "labelFont": "DejaVu Sans", "labelFontSize": 17.6, "labelColor": "#262626", "labelOffset": 23, "symbolOffset": 4, "symbolType": "M-1.7,0L1.7,0", "symbolSize": 484, "symbolStrokeWidth": 2.5, "rowPadding": 4.7, "padding": 8, "fillColor": "#EEEEF4", "strokeColor": "#cccccc", "cornerRadius": 4}
}
}
